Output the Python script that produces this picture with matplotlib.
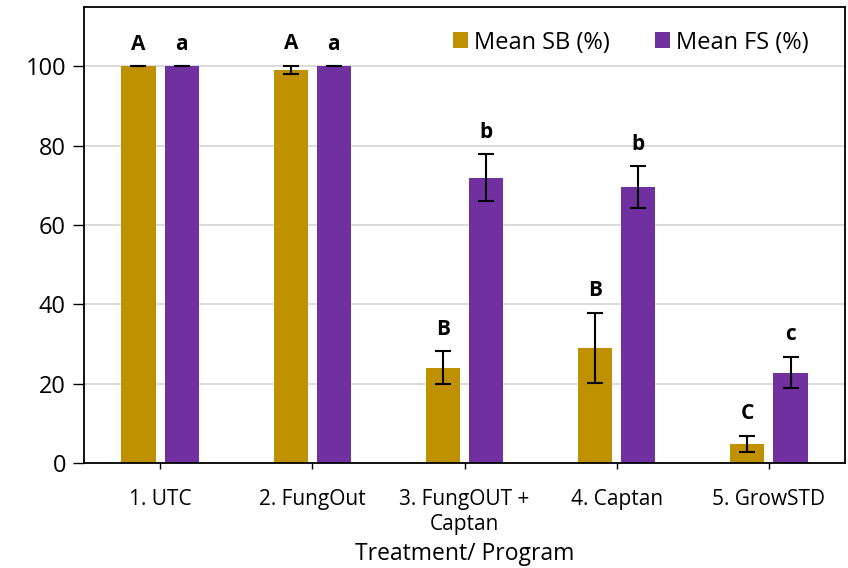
import matplotlib
matplotlib.use("Agg")
import matplotlib.pyplot as plt
import numpy as np

plt.rcParams['font.family'] = ['Open Sans', 'DejaVu Sans']

categories = ["1. UTC", "2. FungOut", "3. FungOUT +\nCaptan", "4. Captan", "5. GrowSTD"]
sb_mean = [100.0, 99.2, 24.0, 29.1, 4.8]
sb_err = [0.0, 1.0, 4.2, 8.8, 2.1]
fs_mean = [100.0, 100.0, 72.0, 69.6, 22.8]
fs_err = [0.0, 0.0, 5.9, 5.3, 4.0]
sb_letters = ["A", "A", "B", "B", "C"]
fs_letters = ["a", "a", "b", "b", "c"]
series_names = ["Mean SB (%)", "Mean FS (%)"]

gold = "#BF9000"
purple = "#7030A0"

fig = plt.figure(figsize=(8.48, 5.68), dpi=100)
ax = fig.add_axes([84/848, 1 - 463/568, (845-84)/848, (463-7)/568])

x = np.arange(len(categories))
w = 0.224
off = 0.142

ax.bar(x - off, sb_mean, w, color=gold, label=series_names[0], zorder=2)
ax.bar(x + off, fs_mean, w, color=purple, label=series_names[1], zorder=2)
ekw = dict(fmt='none', ecolor='black', elinewidth=1.5, capsize=5.5, capthick=1.5, zorder=3)
ax.errorbar(x - off, sb_mean, yerr=sb_err, **ekw)
ax.errorbar(x + off, fs_mean, yerr=fs_err, **ekw)

pad = 5.5
for i in range(len(categories)):
    ax.text(x[i] - off, sb_mean[i] + sb_err[i] + pad, sb_letters[i], ha='center', va='center',
            fontsize=15, fontweight='bold', zorder=4)
    ax.text(x[i] + off, fs_mean[i] + fs_err[i] + pad, fs_letters[i], ha='center', va='center',
            fontsize=15, fontweight='bold', zorder=4)

ax.set_xlim(-0.5, len(categories) - 0.5)
ax.set_ylim(0, 115)
ax.set_yticks([0, 20, 40, 60, 80, 100])
ax.set_xticks(x)
ax.set_xticklabels(categories, fontsize=15, linespacing=1.25)
ax.tick_params(axis='y', labelsize=17, length=8, width=1, direction='out', pad=5)
ax.tick_params(axis='x', length=4, width=1, direction='out', pad=15)
ax.yaxis.grid(True, color='#D9D9D9', linewidth=1.3, zorder=0)
ax.set_axisbelow(True)
for s in ax.spines.values():
    s.set_color('black')
    s.set_linewidth(1.3)

ax.set_xlabel("Treatment/ Program", fontsize=16.5, labelpad=5)

ax.legend(loc='upper right', ncol=2, frameon=False, fontsize=17, handlelength=0.65,
          handleheight=0.65, handletextpad=0.25, columnspacing=1.9,
          bbox_to_anchor=(0.983, 1.0), borderaxespad=0.6)

fig.savefig("out.png", dpi=100)
